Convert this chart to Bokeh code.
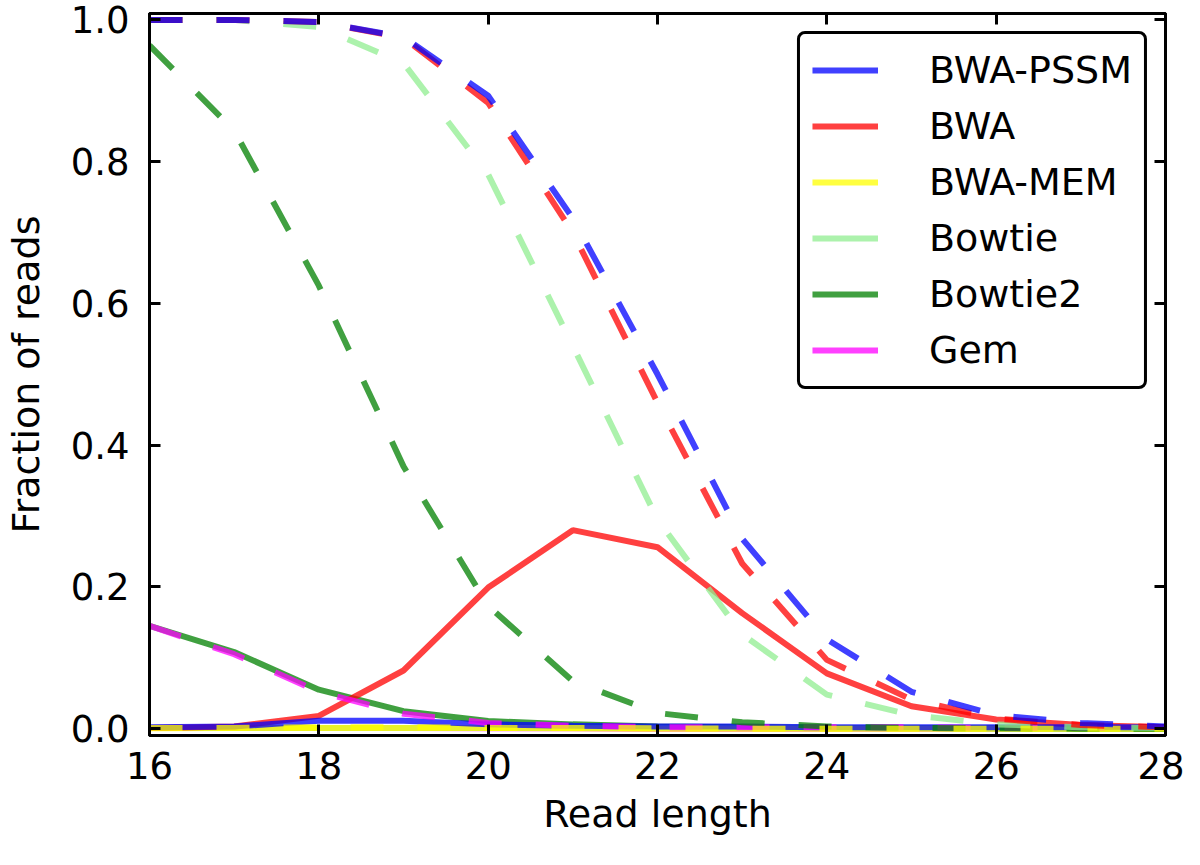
from bokeh.plotting import figure
from bokeh.models import (Range1d, FixedTicker, LinearAxis, Legend, LegendItem,
                          PrintfTickFormatter)
from bokeh.embed import file_html
from bokeh.resources import INLINE

# ---- data ----
read_length = [16, 17, 18, 19, 20, 21, 22, 23, 24, 25, 26, 27, 28]
methods = ["BWA-PSSM", "BWA", "BWA-MEM", "Bowtie", "Bowtie2", "Gem"]
colors = ["blue", "red", "yellow", "lightgreen", "green", "magenta"]

# dashed series
pssm_dash = [1.0, 1.0, 0.997, 0.976, 0.893, 0.72, 0.50, 0.268, 0.126, 0.052, 0.019, 0.008, 0.003]
bwa_dash = [1.0, 1.0, 0.997, 0.975, 0.883, 0.70, 0.46, 0.233, 0.097, 0.041, 0.014, 0.005, 0.002]
mem_dash = [0.001, 0.001, 0.002, 0.002, 0.001, 0.001, 0.0005, 0.0, 0.0, 0.0, 0.0, 0.0, 0.0]
bowtie_dash = [1.0, 1.0, 0.99, 0.939, 0.782, 0.54, 0.295, 0.133, 0.048, 0.019, 0.006, 0.002, 0.001]
bowtie2_dash = [0.964, 0.844, 0.625, 0.37, 0.173, 0.067, 0.022, 0.009, 0.003, 0.001, 0.0005, 0.0, 0.0]
gem_dash = [0.145, 0.105, 0.052, 0.021, 0.008, 0.004, 0.002, 0.002, 0.002, 0.002, 0.001, 0.001, 0.001]

# solid series
pssm_solid = [0.002, 0.003, 0.011, 0.011, 0.006, 0.004, 0.003, 0.003, 0.002, 0.002, 0.002, 0.002, 0.002]
bwa_solid = [0.001, 0.003, 0.018, 0.082, 0.199, 0.280, 0.256, 0.163, 0.078, 0.0315, 0.013, 0.005, 0.002]
mem_solid = [0.0005, 0.001, 0.001, 0.001, 0.001, 0.0005, 0.0, 0.0, 0.0, 0.0, 0.0, 0.0, 0.0]
bowtie_solid = [0.001, 0.001, 0.001, 0.001, 0.001, 0.001, 0.001, 0.001, 0.0005, 0.0005, 0.0, 0.0, 0.0]
bowtie2_solid = [0.145, 0.108, 0.055, 0.0246, 0.0107, 0.006, 0.003, 0.002, 0.001, 0.001, 0.0005, 0.0, 0.0]
gem_solid = [0.001, 0.001, 0.001, 0.001, 0.0005, 0.0005, 0.0, 0.0, 0.0, 0.0, 0.0, 0.0, 0.0]

dashed = [pssm_dash, bwa_dash, mem_dash, bowtie_dash, bowtie2_dash, gem_dash]
solid = [pssm_solid, bwa_solid, mem_solid, bowtie_solid, bowtie2_solid, gem_solid]

x_ticks = [16, 18, 20, 22, 24, 26, 28]
y_ticks = [0.0, 0.2, 0.4, 0.6, 0.8, 1.0]

FONT = "DejaVu Sans"

p = figure(width=1184, height=849, x_range=Range1d(16, 28), y_range=Range1d(-0.0097, 1.009),
           output_backend="svg", toolbar_location=None,
           min_border_left=134, min_border_right=19, min_border_top=13, min_border_bottom=114)
p.xgrid.visible = False
p.ygrid.visible = False
p.outline_line_color = "black"
p.outline_line_width = 3
p.background_fill_color = "white"
p.border_fill_color = "white"

LW = 6
ALPHA = 0.75
solid_r = {}
for i in reversed(range(len(methods))):
    solid_r[i] = p.line(read_length, solid[i], line_color=colors[i], line_width=LW, line_alpha=ALPHA)
for i in reversed(range(len(methods))):
    p.line(read_length, dashed[i], line_color=colors[i], line_width=LW, line_alpha=ALPHA,
           line_dash="33 34")

# axes styling
for ax in [p.xaxis[0], p.yaxis[0]]:
    ax.axis_line_width = 3
    ax.major_tick_line_width = 3
    ax.major_tick_in = 11
    ax.major_tick_out = 0
    ax.minor_tick_in = 0
    ax.minor_tick_out = 0
    ax.major_label_text_font = FONT
    ax.major_label_text_font_size = "37px"
    ax.major_label_text_color = "black"
    ax.axis_label_text_font = FONT
    ax.axis_label_text_font_size = "38px"
    ax.axis_label_text_font_style = "normal"
    ax.axis_label_text_color = "black"

p.xaxis[0].ticker = FixedTicker(ticks=x_ticks)
p.xaxis[0].formatter = PrintfTickFormatter(format="%d")
p.xaxis[0].axis_label = "Read length"
p.xaxis[0].major_label_standoff = 16
p.xaxis[0].axis_label_standoff = 10

p.yaxis[0].ticker = FixedTicker(ticks=y_ticks)
p.yaxis[0].formatter = PrintfTickFormatter(format="%.1f")
p.yaxis[0].axis_label = "Fraction of reads"
p.yaxis[0].major_label_standoff = 20
p.yaxis[0].axis_label_standoff = 20

top_ax = LinearAxis(ticker=FixedTicker(ticks=x_ticks), major_label_text_font_size="0px",
                    major_label_overrides={t: "" for t in x_ticks},
                    major_label_standoff=0, major_tick_in=11, major_tick_out=0,
                    minor_tick_in=0, minor_tick_out=0, axis_line_width=3, major_tick_line_width=3)
right_ax = LinearAxis(ticker=FixedTicker(ticks=y_ticks), major_label_text_font_size="0px",
                      major_label_overrides={t: "" for t in y_ticks},
                      major_label_standoff=0, major_tick_in=11, major_tick_out=0,
                      minor_tick_in=0, minor_tick_out=0, axis_line_width=3, major_tick_line_width=3)
p.add_layout(top_ax, "above")
p.add_layout(right_ax, "right")

legend = Legend(items=[LegendItem(label=methods[i], renderers=[solid_r[i]]) for i in range(len(methods))],
                location="top_right", margin=18, padding=12, spacing=8,
                label_height=48, glyph_height=48, glyph_width=66, label_standoff=51,
                label_text_font=FONT, label_text_font_size="38px", label_text_color="black",
                border_line_color="black", border_line_width=3, border_line_alpha=1.0,
                border_radius=8,
                background_fill_color="white", background_fill_alpha=1.0)
p.add_layout(legend)

open("out.html", "w").write(file_html(p, INLINE))
